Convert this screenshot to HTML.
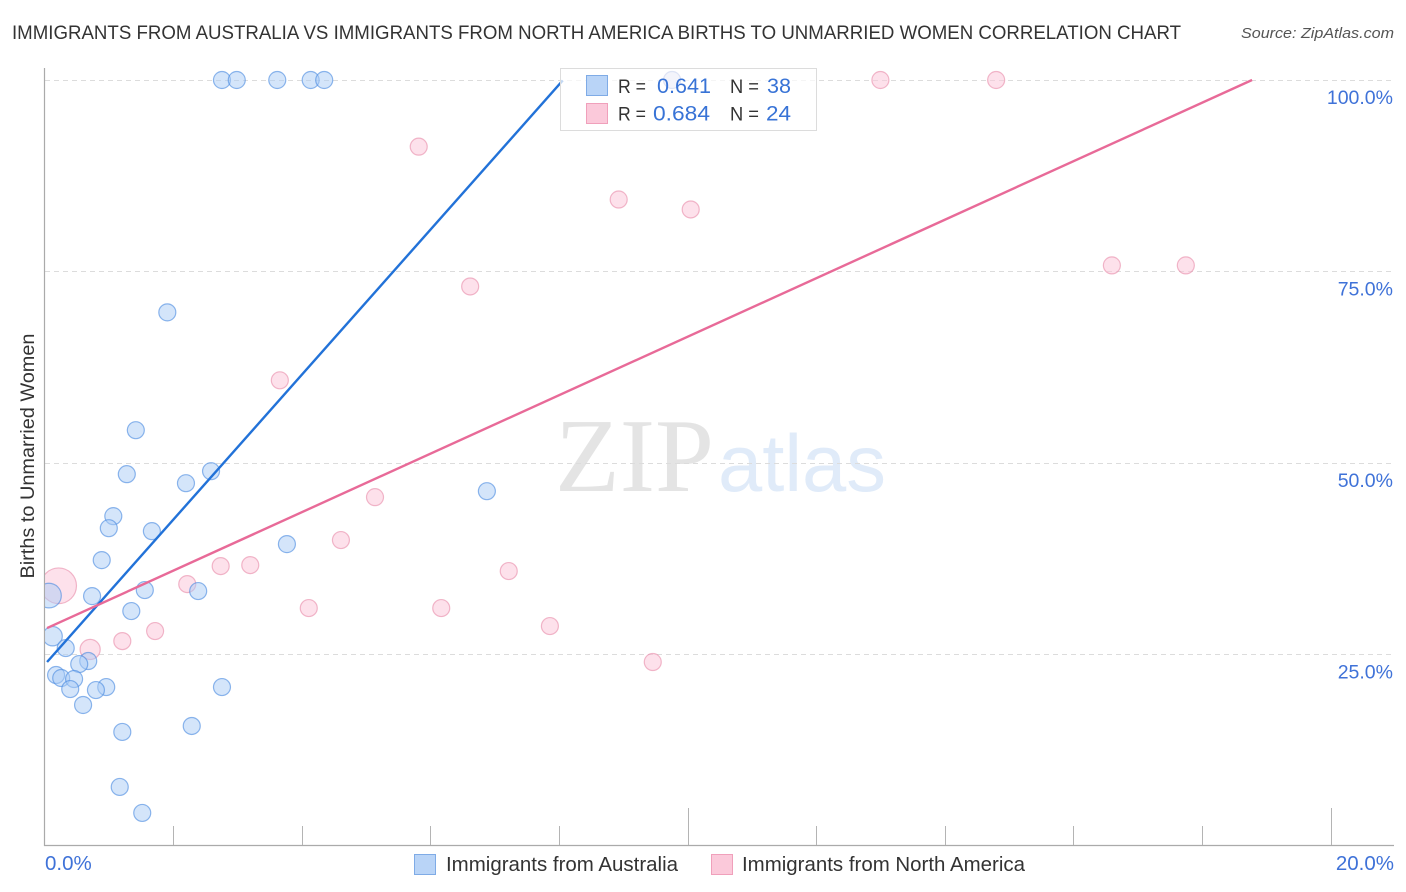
<!DOCTYPE html>
<html lang="en">
<head>
<meta charset="utf-8">
<title>Immigrants from Australia vs Immigrants from North America Births to Unmarried Women Correlation Chart</title>
<style>
html,body{margin:0;padding:0;background:#fff;width:1406px;height:892px;overflow:hidden}
svg{display:block;font-family:"Liberation Sans",sans-serif}
</style>
</head>
<body>
<svg id="chart" xmlns="http://www.w3.org/2000/svg" width="1406" height="892" viewBox="0 0 1406 892">
  <defs><clipPath id="plot-clip"><rect x="45" y="50" width="1360" height="795"/></clipPath></defs>
  <text x="12" y="39" font-size="19" fill="#333" textLength="1169" lengthAdjust="spacingAndGlyphs">IMMIGRANTS FROM AUSTRALIA VS IMMIGRANTS FROM NORTH AMERICA BIRTHS TO UNMARRIED WOMEN CORRELATION CHART</text>
  <text x="1241" y="38" font-size="15" font-style="italic" fill="#555" textLength="153" lengthAdjust="spacingAndGlyphs">Source: ZipAtlas.com</text>
  <text x="555" y="491" font-family="'Liberation Serif',serif" font-size="105" fill="#e4e4e4" textLength="159" lengthAdjust="spacingAndGlyphs">ZIP</text>
  <text x="718" y="491" font-family="'Liberation Sans',sans-serif" font-size="81" fill="#e0ebf9" textLength="168" lengthAdjust="spacingAndGlyphs">atlas</text>
  <g id="grid"></g>
  <g id="axes"></g>
  <g id="points" clip-path="url(#plot-clip)"></g>
  <g id="trends"></g>
  <g>
    <rect x="560.5" y="68.5" width="256" height="62" fill="#fff" fill-opacity="0.72" stroke="#dcdcdc"/>
    <rect x="586.5" y="75.5" width="21" height="20" fill="#b9d4f7" stroke="#7fabe6"/>
    <rect x="586.5" y="103.5" width="21" height="20" fill="#fbc9da" stroke="#f0a0bb"/>
    <text x="618" y="93" font-size="19.5" fill="#333" textLength="28" lengthAdjust="spacingAndGlyphs">R =</text>
    <text x="657" y="93" font-size="21" fill="#3873d6" textLength="54" lengthAdjust="spacingAndGlyphs">0.641</text>
    <text x="730" y="93" font-size="19.5" fill="#333" textLength="29" lengthAdjust="spacingAndGlyphs">N =</text>
    <text x="767" y="93" font-size="21" fill="#3873d6" textLength="24" lengthAdjust="spacingAndGlyphs">38</text>
    <text x="618" y="120.500" font-size="19.5" fill="#333" textLength="28" lengthAdjust="spacingAndGlyphs">R =</text>
    <text x="653" y="120.500" font-size="21" fill="#3873d6" textLength="57" lengthAdjust="spacingAndGlyphs">0.684</text>
    <text x="730" y="120.500" font-size="19.5" fill="#333" textLength="29" lengthAdjust="spacingAndGlyphs">N =</text>
    <text x="766" y="120.500" font-size="21" fill="#3873d6" textLength="25" lengthAdjust="spacingAndGlyphs">24</text>
  </g>
  <text transform="translate(34,456) rotate(-90)" text-anchor="middle" font-size="19" fill="#333" textLength="245" lengthAdjust="spacingAndGlyphs">Births to Unmarried Women</text>
  <g>
    <rect x="414.500" y="854.500" width="21" height="20" fill="#b9d4f7" stroke="#7fabe6"/>
    <text x="446" y="871" font-size="20" fill="#333" textLength="232" lengthAdjust="spacingAndGlyphs">Immigrants from Australia</text>
    <rect x="711.500" y="854.500" width="21" height="20" fill="#fbc9da" stroke="#f0a0bb"/>
    <text x="742" y="871" font-size="20" fill="#333" textLength="283" lengthAdjust="spacingAndGlyphs">Immigrants from North America</text>
  </g>
</svg>
<script>
const yTicks = [25, 50, 75, 100];
const yTickLabels = ["25.0%", "50.0%", "75.0%", "100.0%"];
const xTicks = [0, 2, 4, 6, 8, 10, 12, 14, 16, 18, 20];
const xMajorTicks = [10, 20];
const xEndValues = [0, 20];
const xEndLabels = ["0.0%", "20.0%"];

const australiaX = [2.76,2.99,3.62,4.14,4.35,9.76,1.91,1.42,1.28,2.59,2.20,6.88,1.07,1.00,1.67,3.77,0.89,1.56,2.39,0.74,0.07,1.35,0.126,0.33,0.68,0.54,0.18,0.26,0.46,0.40,0.96,0.80,2.76,0.60,1.21,2.29,1.17,1.52];
const australiaY = [100,100,100,100,100,100,69.67,54.29,48.55,48.94,47.37,46.33,43.07,41.50,41.11,39.42,37.33,33.42,33.29,32.63,32.70,30.68,27.40,25.85,24.16,23.76,22.33,21.94,21.81,20.50,20.76,20.37,20.76,18.42,14.90,15.68,7.72,4.33];
const australiaWeight = [1,1,1,1,1,1,1,1,1,1,1,1,1,1,1,1,1,1,1,1,2.1,1,1.3,1,1,1,1,1,1,1,1,1,1,1,1,1,1,1];

const northAmericaX = [13.0,14.8,9.76,5.82,8.93,10.05,16.6,17.75,6.62,3.66,5.14,4.61,2.74,3.20,7.22,2.22,0.22,4.11,6.17,1.72,1.21,7.86,9.46,0.71];
const northAmericaY = [100,100,100,91.3,84.4,83.1,75.8,75.8,73.05,60.8,45.55,39.95,36.55,36.68,35.9,34.2,33.98,31.07,31.07,28.07,26.76,28.72,24.03,25.67];
const northAmericaWeight = [1,1,1,1,1,1,1,1,1,1,1,1,1,1,1,1,4.4,1,1,1,1,1,1,1.4];

const australiaTrendX = [0.04, 8.06];
const australiaTrendY = [24.03, 99.94];
const northAmericaTrendX = [0.04, 18.78];
const northAmericaTrendY = [28.46, 100];

const SVG_NS = 'http://www.w3.org/2000/svg';
function xScale(v) { return 44.5 + v * 64.3; }
function yScale(v) { return 846.1 - v * 7.661; }
function rScale(w) { return 8.5 * Math.sqrt(w); }
function make(tag, parent) {
  const el = document.createElementNS(SVG_NS, tag);
  parent.appendChild(el);
  return el;
}
function setAll(el, attrs) {
  for (const k in attrs) el.setAttribute(k, attrs[k]);
}
const gridG = document.getElementById('grid');
const axesG = document.getElementById('axes');
const pointsG = document.getElementById('points');
const trendsG = document.getElementById('trends');

yTicks.forEach(function (v, i) {
  const y = Math.floor(yScale(v)) + 0.5;
  const line = make('line', gridG);
  setAll(line, {x1: 45, x2: 1394, y1: y, y2: y, stroke: '#dcdcdc', 'stroke-width': 1, 'stroke-dasharray': '5 4'});
  
  
  const label = make('text', axesG);
  setAll(label, {x: 1393, y: yScale(v) + 24, 'text-anchor': 'end', 'font-size': 19.5, fill: '#3f72d8'});
  label.textContent = yTickLabels[i];
  
  
});

const yAxis = make('line', axesG);
setAll(yAxis, {x1: 44.5, x2: 44.5, y1: 68, y2: 846, stroke: '#aaa', 'stroke-width': 1.2});


const xAxis = make('line', axesG);
setAll(xAxis, {x1: 44, x2: 1394, y1: 845.5, y2: 845.5, stroke: '#aaa', 'stroke-width': 1.2});



xTicks.forEach(function (v) {
  if (v === 0) return;
  const x = Math.round(xScale(v)) + 0.5;
  const tick = make('line', axesG);
  setAll(tick, {x1: x, x2: x, y1: xMajorTicks.includes(v) ? 808 : 826, y2: 845, stroke: '#b4b4b4', 'stroke-width': 1});
  
  
});

xEndValues.forEach(function (v, i) {
  const label = make('text', axesG);
  setAll(label, {x: i === 0 ? xScale(v) + 0.5 : 1394, y: 870, 'text-anchor': i === 0 ? 'start' : 'end', 'font-size': 20.5, fill: '#3f72d8'});
  label.textContent = xEndLabels[i];
  
  
});

northAmericaX.forEach(function (v, i) {
  const c = make('circle', pointsG);
  setAll(c, {cx: xScale(v), cy: yScale(northAmericaY[i]), r: rScale(northAmericaWeight[i]), fill: '#fbc9da', 'fill-opacity': 0.55, stroke: '#e88aa8', 'stroke-opacity': 0.6, 'stroke-width': 1.2});
  
  
});
australiaX.forEach(function (v, i) {
  const c = make('circle', pointsG);
  setAll(c, {cx: xScale(v), cy: yScale(australiaY[i]), r: rScale(australiaWeight[i]), fill: '#a9ccf5', 'fill-opacity': 0.5, stroke: '#4a8ae0', 'stroke-opacity': 0.62, 'stroke-width': 1.2});
  
  
});

const trendA = make('line', trendsG);
setAll(trendA, {x1: xScale(australiaTrendX[0]), y1: yScale(australiaTrendY[0]), x2: xScale(australiaTrendX[1]), y2: yScale(australiaTrendY[1]), stroke: '#2272d8', 'stroke-width': 2.4});


const trendN = make('line', trendsG);
setAll(trendN, {x1: xScale(northAmericaTrendX[0]), y1: yScale(northAmericaTrendY[0]), x2: xScale(northAmericaTrendX[1]), y2: yScale(northAmericaTrendY[1]), stroke: '#e86a98', 'stroke-width': 2.4});


</script>
</body>
</html>
